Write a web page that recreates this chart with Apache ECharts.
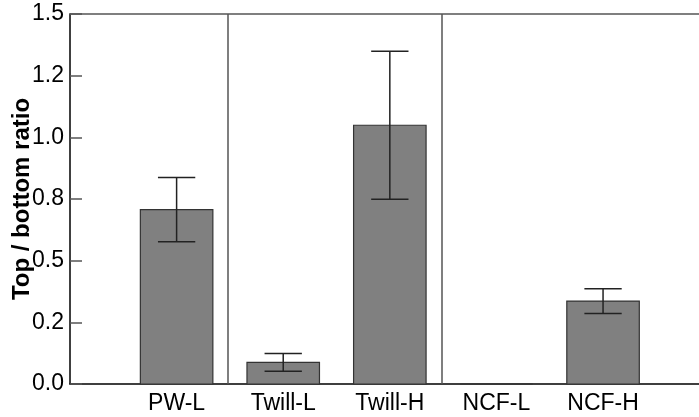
<!DOCTYPE html>
<html>
<head>
<meta charset="utf-8">
<script src="https://cdn.jsdelivr.net/npm/echarts@6/dist/echarts.min.js"></script>
<style>
html,body{margin:0;padding:0;background:#fff;}
#chart{width:699px;height:417px;}
</style>
</head>
<body>
<div id="chart"></div>
<script>
// ---- data ----
var categories = ['PW-L', 'Twill-L', 'Twill-H', 'NCF-L', 'NCF-H'];
var means = [0.707, 0.088, 1.049, 0, 0.336];
var errors = [0.13, 0.036, 0.30, 0, 0.05];
var yTickLabels = ['0.0', '0.2', '0.5', '0.8', '1.0', '1.2', '1.5'];
var separators = [1.48, 3.49];
var yName = 'Top / bottom ratio';

var FONT = 'Liberation Sans, Arial, Helvetica, sans-serif';

var barData = categories.map(function (c, i) { return [i + 1, means[i], errors[i]]; });

var chart = echarts.init(document.getElementById('chart'), null, { renderer: 'canvas' });

var option = {
  animation: false,
  backgroundColor: '#ffffff',
  grid: { left: 70, right: 0, top: 14, bottom: 33, containLabel: false, outerBoundsMode: 'none' },
  xAxis: [{
    type: 'value',
    min: 0,
    max: 5.9,
    interval: 1,
    position: 'bottom',
    axisLine: { show: true, onZero: false, lineStyle: { color: '#000', width: 1.5 } },
    axisTick: { show: false },
    splitLine: { show: false },
    axisLabel: {
      show: true,
      margin: 8,
      color: '#000',
      fontSize: 23,
      fontFamily: FONT,
      showMaxLabel: false,
      showMinLabel: false,
      formatter: function (v) { return categories[Math.round(v) - 1] || ''; }
    }
  }, {
    type: 'value',
    min: 0,
    max: 5.9,
    position: 'top',
    axisLine: { show: true, onZero: false, lineStyle: { color: '#555', width: 1.5 } },
    axisTick: { show: false },
    axisLabel: { show: false },
    splitLine: { show: false }
  }],
  yAxis: {
    type: 'value',
    min: 0,
    max: 1.5,
    interval: 0.25,
    name: yName,
    nameLocation: 'middle',
    nameGap: 36,
    nameMoveOverlap: false,
    nameTextStyle: { color: '#000', fontSize: 24, fontWeight: 'bold', fontFamily: FONT },
    axisLine: { show: true, lineStyle: { color: '#000', width: 1.5 } },
    axisTick: { show: true, inside: true, length: 12, lineStyle: { color: '#555', width: 1.5 } },
    splitLine: { show: false },
    axisLabel: {
      margin: 6,
      color: '#000',
      fontSize: 23,
      fontFamily: FONT,
      formatter: function (v) { return yTickLabels[Math.round(v / 0.25)]; }
    }
  },
  series: [{
    type: 'custom',
    xAxisIndex: 0,
    data: barData,
    renderItem: function (params, api) {
      var x = api.value(0), m = api.value(1), e = api.value(2);
      var base = api.coord([x, 0]);
      var top = api.coord([x, m]);
      var w = api.size([0.68, 0])[0];
      var capW = api.size([0.35, 0])[0];
      var children = [{
        type: 'rect',
        shape: { x: base[0] - w / 2, y: top[1], width: w, height: base[1] - top[1] },
        style: { fill: '#808080', stroke: '#333', lineWidth: 1.2 }
      }];
      if (e > 0) {
        var hi = api.coord([x, m + e]);
        var lo = api.coord([x, m - e]);
        var ls = { stroke: '#222', lineWidth: 1.5, fill: null };
        children.push({ type: 'line', shape: { x1: hi[0], y1: hi[1], x2: lo[0], y2: lo[1] }, style: ls });
        children.push({ type: 'line', shape: { x1: hi[0] - capW / 2, y1: hi[1], x2: hi[0] + capW / 2, y2: hi[1] }, style: ls });
        children.push({ type: 'line', shape: { x1: lo[0] - capW / 2, y1: lo[1], x2: lo[0] + capW / 2, y2: lo[1] }, style: ls });
      }
      return { type: 'group', children: children };
    },
    markLine: {
      silent: true,
      symbol: 'none',
      label: { show: false },
      lineStyle: { color: '#555', width: 1.5, type: 'solid' },
      data: separators.map(function (s) { return { xAxis: s }; })
    },
    z: 2
  }]
};

chart.setOption(option);
</script>
</body>
</html>
